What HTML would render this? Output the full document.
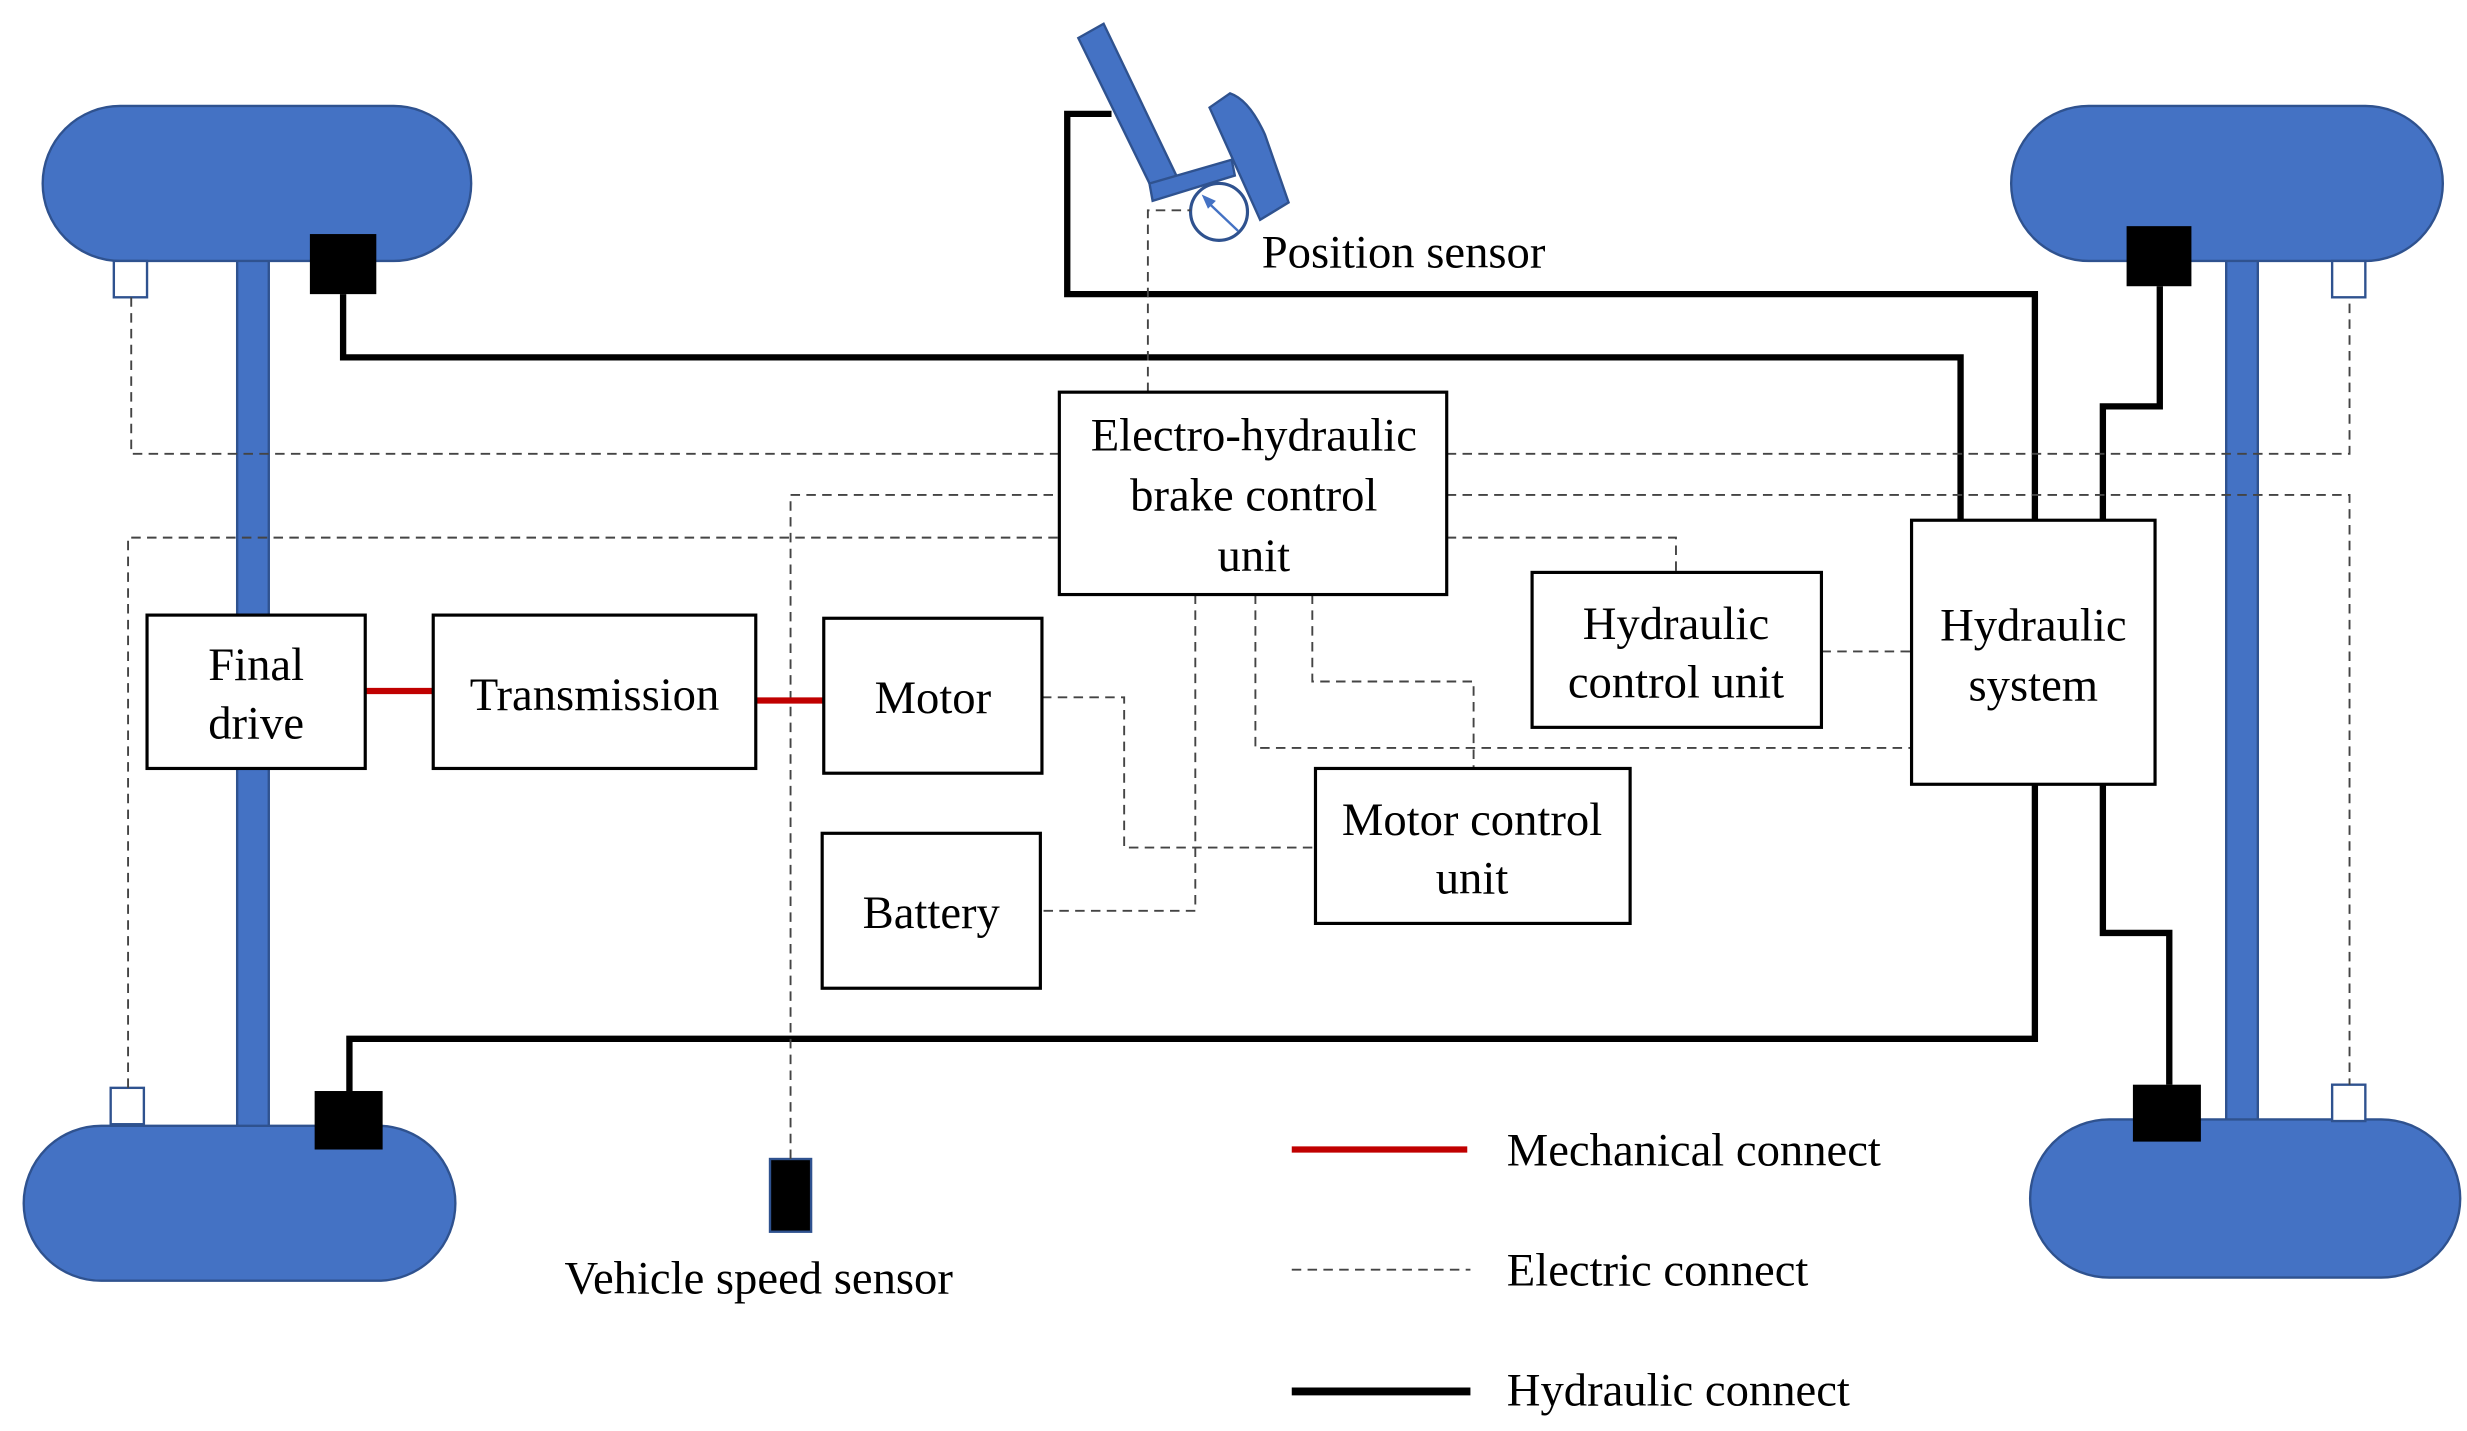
<!DOCTYPE html>
<html><head><meta charset="utf-8"><style>
html,body{margin:0;padding:0;background:#fff;}
svg{display:block;}
text{font-family:"Liberation Serif",serif;font-size:29.5px;fill:#000;}
</style></head><body>
<svg width="2467" height="1431" viewBox="0 0 1560.3 905" xmlns="http://www.w3.org/2000/svg">
<rect width="1560.3" height="905" fill="#fff"/>
<g fill="#4472C4" stroke="#2F528F" stroke-width="1.5">
<rect x="150" y="160" width="20" height="555"/>
<rect x="1408" y="158" width="20" height="553"/>
<rect x="27" y="67" width="271" height="98" rx="49"/>
<rect x="15" y="712" width="273" height="98" rx="49"/>
<rect x="1272" y="67" width="273" height="98" rx="49"/>
<rect x="1284" y="708" width="272" height="100" rx="50"/>
<polygon points="682,24 698,15 744,111 729,120"/>
<polygon points="727,116 779,101 781,111 729,127"/>
<path d="M765,68 L778,59 Q790,63 800,85 L815,128 L797,139 Z"/>
</g>
<circle cx="771" cy="134" r="18" fill="#fff" stroke="#2F528F" stroke-width="2"/>
<line x1="783" y1="146" x2="763" y2="127" stroke="#4472C4" stroke-width="1.5"/>
<polygon points="760,123 769,127 764,132" fill="#4472C4"/>
<g fill="#000">
<rect x="196" y="148" width="42" height="38"/>
<rect x="199" y="690" width="43" height="37"/>
<rect x="1345" y="143" width="41" height="38"/>
<rect x="1349" y="686" width="43" height="36"/>
<rect x="487" y="733" width="26" height="46" stroke="#2F528F" stroke-width="1.5"/>
</g>
<g fill="#fff" stroke="#2F528F" stroke-width="1.5">
<rect x="72" y="165" width="21" height="23"/>
<rect x="70" y="688" width="21" height="23"/>
<rect x="1475" y="165" width="21" height="23"/>
<rect x="1475" y="686" width="21" height="23"/>
</g>
<g fill="none" stroke="#000" stroke-width="4">
<polyline points="217,186 217,226 1240,226 1240,329"/>
<polyline points="703,72 675,72 675,186 1287,186 1287,329"/>
<polyline points="1366,181 1366,257 1330,257 1330,329"/>
<polyline points="1287,496 1287,657 221,657 221,690"/>
<polyline points="1330,496 1330,590 1372,590 1372,686"/>
</g>
<g fill="none" stroke="#444" stroke-width="1.2" stroke-dasharray="6,4">
<polyline points="83,188 83,287 670,287"/>
<polyline points="915,287 1486,287 1486,188"/>
<polyline points="81,688 81,340 670,340"/>
<polyline points="915,313 1486,313 1486,686"/>
<polyline points="500,733 500,313 670,313"/>
<polyline points="915,340 1060,340 1060,362"/>
<polyline points="1152,412 1209,412"/>
<polyline points="794,376 794,473 1209,473"/>
<polyline points="830,376 830,431 932,431 932,486"/>
<polyline points="756,376 756,576 658,576"/>
<polyline points="659,441 711,441 711,536 832,536"/>
<polyline points="726,248 726,133 753,133"/>
</g>
<g stroke="#C00000" stroke-width="4">
<line x1="231" y1="437" x2="274" y2="437"/>
<line x1="478" y1="443" x2="521" y2="443"/>
<line x1="817" y1="727" x2="928" y2="727"/>
</g>
<line x1="817" y1="803" x2="930" y2="803" stroke="#444" stroke-width="1.2" stroke-dasharray="6,4"/>
<line x1="817" y1="880" x2="930" y2="880" stroke="#000" stroke-width="5"/>
<g fill="#fff" stroke="#000" stroke-width="2">
<rect x="93" y="389" width="138" height="97"/>
<rect x="274" y="389" width="204" height="97"/>
<rect x="521" y="391" width="138" height="98"/>
<rect x="520" y="527" width="138" height="98"/>
<rect x="670" y="248" width="245" height="128"/>
<rect x="969" y="362" width="183" height="98"/>
<rect x="1209" y="329" width="154" height="167"/>
<rect x="832" y="486" width="199" height="98"/>
</g>
<g text-anchor="middle">
<text x="162" y="430">Final</text><text x="162" y="467">drive</text>
<text x="376" y="449">Transmission</text>
<text x="590" y="451">Motor</text>
<text x="589" y="587">Battery</text>
<text x="793" y="285">Electro-hydraulic</text><text x="793" y="323">brake control</text><text x="793" y="361">unit</text>
<text x="1060" y="404">Hydraulic</text><text x="1060" y="441">control unit</text>
<text x="1286" y="405">Hydraulic</text><text x="1286" y="443">system</text>
<text x="931" y="528">Motor control</text><text x="931" y="565">unit</text>
</g>
<text x="798" y="169">Position sensor</text>
<text x="357" y="818">Vehicle speed sensor</text>
<text x="953" y="737">Mechanical connect</text>
<text x="953" y="813">Electric connect</text>
<text x="953" y="889">Hydraulic connect</text>
</svg>
</body></html>
